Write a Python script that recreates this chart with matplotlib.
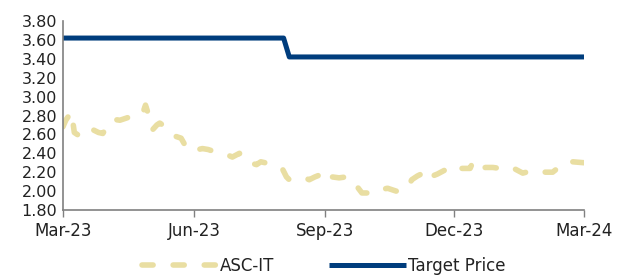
import matplotlib
matplotlib.use("Agg")
import matplotlib.pyplot as plt
import pandas as pd

# ---- data ----
asc_dates = ["2023-03-01","2023-03-03","2023-03-07","2023-03-09","2023-03-13","2023-03-15",
             "2023-03-19","2023-03-22","2023-03-26","2023-03-29","2023-04-01","2023-04-05",
             "2023-04-10","2023-04-16","2023-04-19","2023-04-22","2023-04-26","2023-04-28",
             "2023-05-02","2023-05-03","2023-05-06","2023-05-08","2023-05-12","2023-05-16",
             "2023-05-19","2023-05-23","2023-05-26","2023-05-30","2023-06-02","2023-06-04",
             "2023-06-07","2023-06-11","2023-06-15","2023-06-22","2023-06-28","2023-07-03",
             "2023-07-05","2023-07-10","2023-07-15","2023-07-18","2023-07-21","2023-07-27",
             "2023-08-02","2023-08-05","2023-08-07","2023-08-12","2023-08-18","2023-08-21",
             "2023-08-25","2023-08-30","2023-09-04","2023-09-06","2023-09-11","2023-09-16",
             "2023-09-21","2023-09-24","2023-09-27","2023-10-02","2023-10-08","2023-10-12",
             "2023-10-15","2023-10-21","2023-10-26","2023-10-30","2023-11-01","2023-11-05",
             "2023-11-09","2023-11-11","2023-11-14","2023-11-19","2023-11-24","2023-11-29",
             "2023-12-03","2023-12-07","2023-12-12","2023-12-14","2023-12-17","2023-12-23",
             "2023-12-28","2024-01-02","2024-01-07","2024-01-13","2024-01-18","2024-01-23",
             "2024-01-26","2024-01-29","2024-02-03","2024-02-08","2024-02-13","2024-02-16",
             "2024-02-22","2024-03-01"]
asc_values = [2.68, 2.75, 2.84, 2.62, 2.58, 2.63,
              2.63, 2.65, 2.62, 2.61, 2.68, 2.76,
              2.75, 2.78, 2.78, 2.79, 2.82, 2.91,
              2.72, 2.65, 2.70, 2.72, 2.68, 2.65,
              2.58, 2.56, 2.48, 2.42, 2.44, 2.44,
              2.45, 2.44, 2.42, 2.40, 2.36, 2.40,
              2.33, 2.30, 2.28, 2.31, 2.30, 2.27,
              2.24, 2.15, 2.12, 2.14, 2.14, 2.12,
              2.15, 2.18, 2.22, 2.15, 2.14, 2.15,
              2.12, 2.04, 1.98, 1.98, 1.98, 2.02,
              2.03, 2.00, 2.00, 2.06, 2.12, 2.16,
              2.19, 2.12, 2.15, 2.18, 2.22, 2.27,
              2.24, 2.24, 2.24, 2.31, 2.24, 2.25,
              2.25, 2.24, 2.26, 2.23, 2.19, 2.21,
              2.22, 2.21, 2.20, 2.20, 2.26, 2.30,
              2.31, 2.30]

target_dates = ["2023-03-01", "2023-08-03", "2023-08-07", "2024-03-01"]
target_values = [3.62, 3.62, 3.42, 3.42]

x_ticks = ["2023-03-01", "2023-06-01", "2023-09-01", "2023-12-01", "2024-03-01"]
x_tick_labels = ["Mar-23", "Jun-23", "Sep-23", "Dec-23", "Mar-24"]
y_ticks = [1.80, 2.00, 2.20, 2.40, 2.60, 2.80, 3.00, 3.20, 3.40, 3.60, 3.80]

# ---- plot ----
plt.rcParams['font.family'] = ['DejaVu Sans']
fig = plt.figure(figsize=(6.17, 2.77), dpi=100)
ax = fig.add_axes([0.102, 0.242, 0.8445, 0.682])

ax.plot(pd.to_datetime(asc_dates), asc_values, color='#E9DEA2', lw=4.0,
        dashes=(2.0, 3.6), dash_capstyle='round', solid_capstyle='round',
        label='ASC-IT')
ax.plot(pd.to_datetime(target_dates), target_values, color='#003D7D', lw=3.6,
        solid_capstyle='butt', label='Target Price')

ax.set_xlim(pd.Timestamp("2023-03-01"), pd.Timestamp("2024-03-01"))
ax.set_ylim(1.80, 3.80)
ax.set_yticks(y_ticks)
ax.set_yticklabels([f"{v:.2f}" for v in y_ticks])
ax.set_xticks(pd.to_datetime(x_ticks))
ax.set_xticklabels(x_tick_labels)

for s in ['top', 'right']:
    ax.spines[s].set_visible(False)
for s in ['left', 'bottom']:
    ax.spines[s].set_color('#808080')
    ax.spines[s].set_linewidth(1.2)
ax.tick_params(axis='y', length=0, labelsize=11.5, pad=4, colors='#222222')
ax.tick_params(axis='x', length=5, width=1, color='#808080', labelsize=12,
               pad=4, labelcolor='#222222')

leg = ax.legend(loc='lower center', bbox_to_anchor=(0.5, -0.405), ncol=2,
                frameon=False, fontsize=12, handlelength=4.6, handletextpad=0.1,
                columnspacing=3.3, borderpad=0.2)
for t in leg.get_texts():
    t.set_color('#222222')

fig.savefig("out.png", dpi=100)
